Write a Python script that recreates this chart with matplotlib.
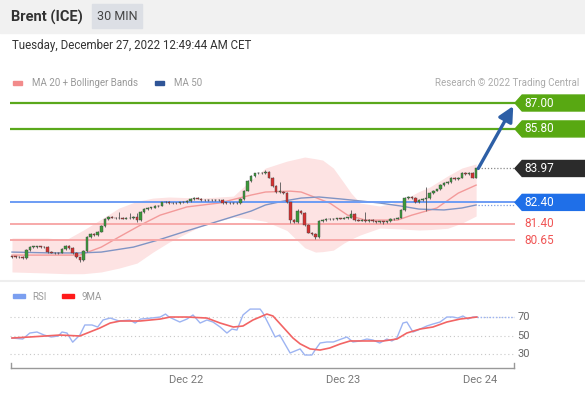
import matplotlib
matplotlib.use('Agg')
import matplotlib.pyplot as plt
from matplotlib.patches import Rectangle, Polygon
import numpy as np

plt.rcParams['font.family'] = ['Roboto', 'DejaVu Sans']

# --- data (30 min bars, index 0..130) ---
closes = [79.88, 79.87, 79.86, 79.84, 80.18, 80.33, 80.35, 80.36, 80.34, 80.32,
          80.12, 80.08, 80.05, 80.08, 80.25, 80.38, 80.28, 80.05, 79.85, 79.72,
          80.15, 80.80, 80.95, 80.90, 81.05, 81.30, 81.62, 81.72, 81.70, 81.66,
          81.68, 81.65, 81.70, 81.66, 81.72, 81.60, 81.95, 82.10, 82.14, 82.16,
          82.22, 82.25, 82.40, 82.44, 82.38, 82.36, 82.38, 82.40, 82.42, 82.45,
          82.55, 82.60, 82.58, 82.50, 82.52, 82.50, 82.52, 82.50, 82.52, 82.38,
          82.37, 82.36, 82.38, 82.36, 82.55, 82.95, 83.40, 83.62, 83.74, 83.78,
          83.75, 83.80, 83.55, 83.15, 82.88, 82.88, 82.85, 82.40, 81.60, 81.50,
          82.00, 81.90, 81.35, 81.00, 80.92, 80.80, 81.55, 81.60, 81.62, 81.64,
          81.62, 81.66, 81.65, 81.68, 81.70, 81.85, 81.58, 81.56, 81.58, 81.55,
          81.60, 81.52, 81.50, 81.52, 81.48, 81.52, 81.62, 81.65, 81.70, 82.05,
          82.62, 82.65, 82.60, 82.42, 82.50, 82.55, 82.60, 82.85, 82.95, 83.00,
          83.20, 83.30, 83.35, 83.55, 83.48, 83.55, 83.75, 83.72, 83.78, 83.55,
          83.97]
first_open = 79.90
long_high = {30: 81.95, 33: 81.92, 35: 81.90, 71: 83.88, 75: 83.35, 80: 82.10,
             95: 82.05, 99: 81.95, 116: 83.10}
long_low = {19: 79.64, 35: 81.50, 78: 81.45, 85: 80.72, 104: 81.38, 116: 81.98}

ma50_x = [0, 11, 19, 25, 34, 41, 48, 57, 67, 71, 76, 81, 86, 92, 98, 103, 109, 114, 121, 126, 130]
ma50 = [80.10, 80.06, 80.06, 80.10, 80.33, 80.66, 81.03, 81.49, 82.00, 82.28, 82.46,
        82.60, 82.65, 82.56, 82.46, 82.37, 82.23, 82.09, 82.05, 82.14, 82.28]

ma20_x = [0, 19, 25, 30, 36, 41.5, 49, 58, 67, 71, 78, 81, 89, 94, 99, 108, 112, 119, 125, 130]
ma20 = [79.96, 79.96, 80.33, 80.80, 81.35, 81.81, 82.19, 82.37, 82.74, 82.88, 82.92,
        82.88, 82.37, 81.81, 81.58, 81.58, 81.81, 82.14, 82.83, 83.20]

# Bollinger band edges, read at the same bar positions
bb_x = [0, 10, 15, 20, 25, 30, 35, 39.5, 44, 49, 53, 62, 67, 71, 77, 82, 85, 87, 90,
        93, 95, 97.5, 103, 109, 114, 117, 122, 126, 130]
bb_up = [80.75, 80.75, 80.66, 81.12, 81.62, 82.14, 82.45, 82.60, 82.65, 82.62, 82.60,
         82.69, 83.44, 83.99, 84.31, 84.50, 84.42, 84.36, 83.99, 83.30, 82.83, 82.37,
         82.23, 82.46, 82.90, 83.11, 83.62, 83.99, 84.18]
bb_lo = [79.18, 79.13, 79.10, 79.10, 79.18, 79.36, 79.59, 80.10, 80.56, 80.98, 81.31,
         81.72, 81.63, 81.52, 81.10, 80.30, 80.10, 80.12, 80.19, 80.52, 80.70, 80.89,
         81.21, 81.17, 81.12, 81.14, 81.20, 81.44, 81.77]

rsi_x = [0, 3, 5, 7, 9, 11, 13, 14, 15.4, 17, 19, 20.4, 22.4, 24, 25.5, 27.5, 30, 33,
         34.5, 36, 39, 41.5, 43, 44, 47, 49, 50.7, 52.7, 54.6, 56.3, 58.3, 60.2, 61.6,
         63, 64.7, 66.7, 69.5, 70.3, 72.3, 73.7, 75, 77.9, 80.7, 82, 84, 84.9, 86.3,
         88.2, 90, 93.8, 95.5, 97.5, 99.4, 101.1, 103, 105, 106.4, 107.8, 109.5, 110.6,
         112.3, 113.7, 116.2, 117.9, 119.9, 121.8, 123.5, 124.9, 126.3, 127.7, 129.1, 130.2]
rsi = [47.3, 46.2, 52.7, 53.8, 50.5, 48.4, 49.5, 53.8, 52.7, 42.8, 50.5, 61.4, 61.4,
       59.2, 66.8, 68.9, 65.7, 66.8, 63.5, 67.8, 68.9, 70.0, 73.2, 70.0, 64.6, 67.8,
       72.2, 63.5, 66.8, 64.6, 59.2, 52.7, 57.0, 55.9, 72.2, 78.6, 78.6, 74.3, 59.2,
       48.4, 50.5, 31.1, 35.5, 28.9, 28.9, 34.3, 41.9, 43.0, 43.0, 48.4, 43.0, 44.1,
       46.2, 45.1, 41.9, 46.2, 44.1, 47.3, 63.5, 64.6, 53.8, 55.9, 60.3, 62.4, 64.6,
       70.0, 70.0, 68.9, 71.1, 67.8, 70.0, 70.0]
ma9_x = [0, 5, 13.4, 19, 21.8, 24.6, 27.5, 30.3, 35.9, 41.5, 44.3, 49, 54.6, 58.3, 62,
         64.7, 67.5, 71.4, 73.1, 75.9, 78.7, 80.7, 83.5, 86.3, 89, 91.9, 94.7, 99.4,
         104, 107.8, 110.6, 114.3, 117.9, 121.8, 125.5, 130.2]
ma9 = [47.3, 48.4, 50.5, 49.5, 53.8, 58.1, 63.5, 65.7, 65.7, 67.8, 70.0, 70.0, 68.9,
       63.5, 59.2, 60.3, 66.8, 73.2, 71.1, 59.2, 47.3, 41.0, 35.5, 34.3, 36.5, 40.8,
       44.1, 44.1, 44.1, 46.2, 52.7, 57.0, 59.2, 64.6, 67.8, 70.0]

green_levels = [87.00, 85.80]
blue_level = 82.40
red_levels = [81.40, 80.65]
last_price = 83.97
rsi_levels = [70, 50, 30]
xtick_pos = [48.7, 92.7, 131.1]
xtick_labels = ['Dec 22', 'Dec 23', 'Dec 24']

# --- figure ---
W, H = 585, 393
fig = plt.figure(figsize=(W / 100, H / 100), dpi=100)
fig.patch.set_facecolor('white')


def fy(py):
    return 1 - py / H


fig.patches.append(Rectangle((0, fy(33)), 1, 33 / H, transform=fig.transFigure,
                             color='#f1f1f1', zorder=0))
fig.patches.append(Rectangle((92 / W, fy(28)), 50 / W, 24 / H, transform=fig.transFigure,
                             color='#dcdfe5', zorder=1))
fig.text(11 / W, fy(17), 'Brent (ICE)', fontsize=10.5, fontweight='bold', color='#333333', va='center')
fig.text(117 / W, fy(17), '30 MIN', fontsize=9, color='#444444', va='center', ha='center')
fig.text(12 / W, fy(45), 'Tuesday, December 27, 2022 12:49:44 AM CET', fontsize=8.3,
         color='#333333', va='center')

# legend row
fig.patches.append(Rectangle((13 / W, fy(85)), 9 / W, 4 / H, transform=fig.transFigure, color='#f28b8b'))
fig.text(32 / W, fy(83.5), 'MA 20 + Bollinger Bands', fontsize=7, color='#999999', va='center')
fig.patches.append(Rectangle((155 / W, fy(85)), 9 / W, 4 / H, transform=fig.transFigure, color='#2f5597'))
fig.text(174 / W, fy(83.5), 'MA 50', fontsize=7, color='#999999', va='center')
fig.text(579 / W, fy(83.5), 'Research \u00a9 2022 Trading Central', fontsize=7, color='#aaaaaa',
         va='center', ha='right')

# --- main price panel ---
XL = (-0.56, 157.7)
ax = fig.add_axes([10 / W, fy(278), 565 / W, 221 / H])
ax.set_xlim(*XL)
ax.set_ylim(78.90, 89.13)
ax.axis('off')

ax.fill_between(bb_x, bb_lo, bb_up, color='#fde3e3', lw=0, zorder=1)
ax.plot(ma20_x, ma20, color='#f39a9a', lw=1.0, zorder=2)
ax.plot(ma50_x, ma50, color='#8094c4', lw=1.0, zorder=2)

line_end = 140.9
ax.hlines(green_levels, XL[0], line_end, colors='#5aa81b', lw=1.6, zorder=3)
ax.hlines(blue_level, XL[0], line_end, colors='#6d9cf4', lw=1.4, zorder=3)
ax.hlines(red_levels, XL[0], line_end, colors='#f7a9a9', lw=1.4, zorder=3)

# candles
n = len(closes)
opens = [first_open] + closes[:-1]
for i in range(n):
    o, c = opens[i], closes[i]
    hi = long_high.get(i, max(o, c) + 0.04)
    lo = long_low.get(i, min(o, c) - 0.04)
    col = '#3a9a3a' if c >= o else '#d63030'
    ax.vlines(i, lo, hi, color='#555555', lw=0.6, zorder=4)
    ax.bar(i, max(abs(c - o), 0.03), bottom=min(o, c), width=0.7, color=col,
           edgecolor='#444444', linewidth=0.3, zorder=5)

# dotted guides to the tags
ax.hlines(last_price, n - 0.5, line_end, colors='#888888', lw=0.9, linestyles=(0, (1, 1.5)), zorder=3)
ax.hlines(ma50[-1], n - 0.5, line_end, colors='#7f9fe0', lw=0.9, linestyles=(0, (1, 1.5)), zorder=3)

ax.annotate('', xy=(140.4, 86.86), xytext=(n - 0.4, last_price),
            arrowprops=dict(arrowstyle='-|>,head_width=0.45,head_length=0.9',
                            color='#2d5fa6', lw=2.4, shrinkA=0, shrinkB=0), zorder=6)


def tag(y, color, text):
    h = 0.37
    pts = [(140.9, y), (142.9, y + h), (161, y + h), (161, y - h), (142.9, y - h)]
    ax.add_patch(Polygon(pts, closed=True, color=color, clip_on=False, zorder=6))
    ax.text(143.6, y, text, color='white', fontsize=8.5, va='center', zorder=7, clip_on=False)


for lv in green_levels:
    tag(lv, '#58a812', f'{lv:.2f}')
tag(last_price, '#2b2b2b', f'{last_price:.2f}')
tag(blue_level, '#1f6fe8', f'{blue_level:.2f}')
for lv in red_levels:
    ax.text(143.6, lv, f'{lv:.2f}', color='#f05555', fontsize=8.5, va='center', clip_on=False)

# separator
fig.add_artist(plt.Line2D([0, 1], [fy(281), fy(281)], color='#eeeeee', lw=1.5))

# --- RSI panel ---
rax = fig.add_axes([10 / W, fy(370), 565 / W, 87 / H])
rax.set_xlim(*XL)
rax.set_ylim(12.7, 106.8)
rax.axis('off')

fig.patches.append(Rectangle((13 / W, fy(298)), 12 / W, 4 / H, transform=fig.transFigure, color='#7b9ff0'))
fig.text(32 / W, fy(296.5), 'RSI', fontsize=7, color='#999999', va='center')
fig.patches.append(Rectangle((62 / W, fy(298)), 12 / W, 4 / H, transform=fig.transFigure, color='#ff1a1a'))
fig.text(82 / W, fy(296.5), '9MA', fontsize=7, color='#999999', va='center')

rax.hlines(rsi_levels, XL[0], 140.6, colors='#c8c8c8', lw=0.8, linestyles=(0, (1, 2.5)))
for v in rsi_levels:
    rax.text(141.6, v, str(v), fontsize=8, color='#666666', va='center')

rax.plot(rsi_x, rsi, color='#9db4f2', lw=1.0, zorder=3)
rax.plot(ma9_x, ma9, color='#f26464', lw=1.2, zorder=4)
rax.hlines(rsi[-1], rsi_x[-1], 140.6, colors='#9db4f2', lw=1.0, linestyles=(0, (1, 1.2)), zorder=3)

base = 14.87
rax.plot([-0.3, 140.6], [base, base], color='#999999', lw=1.0, clip_on=False)
rax.plot([-0.3, -0.3], [base, 20.3], color='#999999', lw=1.0, clip_on=False)
rax.plot([140.6, 140.6], [base, 20.3], color='#999999', lw=1.0, clip_on=False)
for xp, lab in zip(xtick_pos, xtick_labels):
    rax.text(xp, 1.9, lab, fontsize=8, color='#777777', ha='center', va='center', clip_on=False)

fig.savefig('out.png', dpi=100)
